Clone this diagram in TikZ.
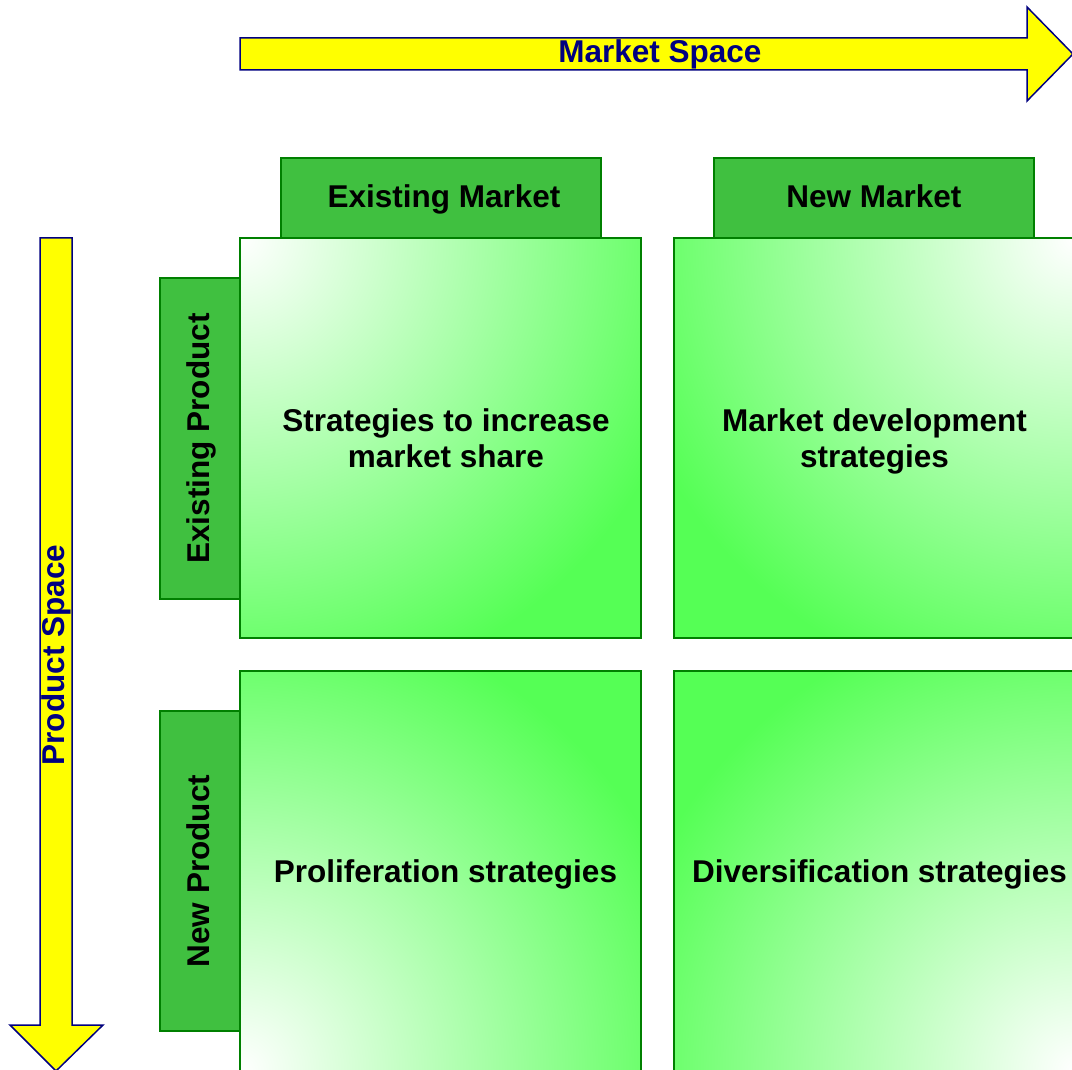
\documentclass[tikz,border=0pt]{standalone}
\usepackage{fontspec}
\setmainfont{Liberation Sans}
\definecolor{navyline}{HTML}{000080}
\definecolor{arrowfill}{HTML}{FFFF00}
\definecolor{tabfill}{HTML}{40C040}
\definecolor{tabline}{HTML}{008000}
\definecolor{cellgreen}{HTML}{55FF55}
\begin{document}
\begin{tikzpicture}[x=1pt,y=-1pt,
  every node/.style={font=\fontsize{31.5}{36}\selectfont\bfseries},
  bigarrow/.style={draw=navyline,fill=arrowfill,line width=1.5pt,line join=miter},
  arrowtext/.style={text=navyline,inner sep=0pt},
  tab/.style={draw=tabline,fill=tabfill,line width=1.5pt,inner sep=0pt,
    text height=25.6pt,text depth=7pt},
  cell/.style={draw=tabline,fill=cellgreen,line width=1.5pt,minimum width=401pt,
    minimum height=400pt,inner sep=0pt,align=center},
  oneline/.style={text height=29.6pt,text depth=7pt},
  glow/.style={path picture={\shade[inner color=white,outer color=cellgreen]
      (path picture bounding box.#1) circle (470);}}
]
\useasboundingbox (0,0) rectangle (1072,1070);
\clip (0,0) rectangle (1072,1070);

% horizontal axis arrow
\draw[bigarrow] (240,38) -- (1027,38) -- (1027,7) -- (1073,54) -- (1027,101)
  -- (1027,70) -- (240,70) -- cycle;
\node[arrowtext] (mspace) at (660,54) {Market Space};

% vertical axis arrow
\draw[bigarrow] (40,238) -- (72,238) -- (72,1025) -- (103,1025) -- (56,1071)
  -- (10,1025) -- (40,1025) -- cycle;
\node[arrowtext,rotate=90] (pspace) at (56,655) {Product Space};

% column headers
\node[tab,minimum width=320pt,minimum height=80pt] (exmkt) at (441,198) {\hspace*{6pt}Existing Market};
\node[tab,minimum width=320pt,minimum height=80pt] (newmkt) at (874,198) {New Market};

% row headers
\node[tab,minimum width=321pt,minimum height=80pt,rotate=90] (exprod) at (200,438.5) {Existing Product};
\node[tab,minimum width=320pt,minimum height=80pt,rotate=90] (newprod) at (200,871) {New Product};

% strategy cells
\node[cell,glow=north west] (tl) at (440.5,438) {\hspace*{11pt}Strategies to increase\\\hspace*{11pt}\smash{market share}};
\node[cell,glow=north east] (tr) at (874.5,438) {Market development\\\smash{strategies}};
\node[cell,oneline,glow=south west] (bl) at (440.5,871) {\hspace*{10pt}Proliferation strategies};
\node[cell,oneline,glow=south east] (br) at (874.5,871) {\hspace*{10pt}Diversification strategies};
\end{tikzpicture}
\end{document}
